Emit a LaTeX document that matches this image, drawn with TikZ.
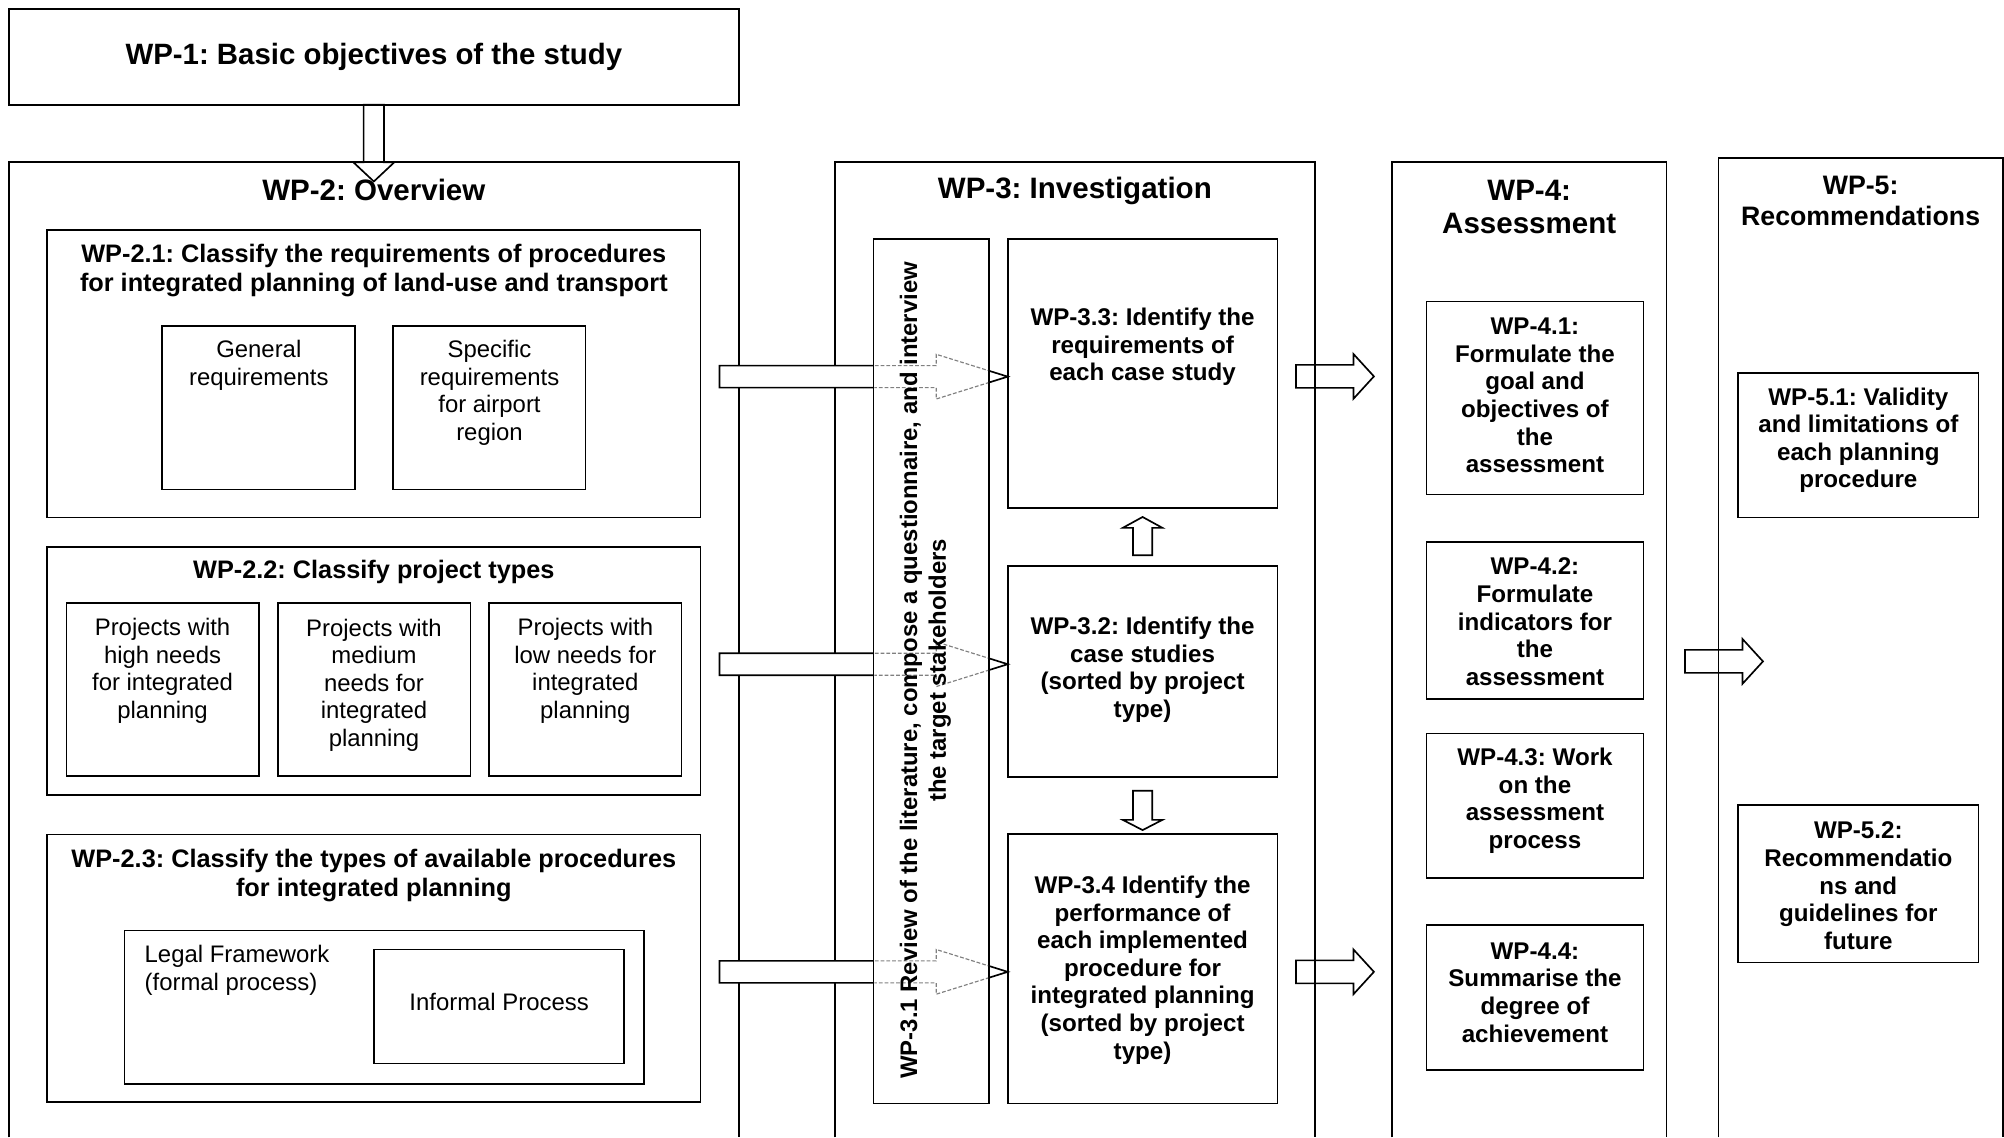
\documentclass[tikz,border=0pt]{standalone}
\usepackage{fontspec}
\setmainfont{Liberation Sans}
\usetikzlibrary{calc}
\frenchspacing

% rectangle node given by two corners: [options]{name}{x1}{y1}{x2}{y2}
\newcommand\wpbox[6][]{%
  \node[box,#1,minimum width={(#5-#3)*1pt},minimum height={(#6-#4)*1pt}]
    (#2) at ({(#3+#5)/2},{(#4+#6)/2}) {};}

% hollow block arrow: {style}{tail}{tip}{head length}{body half width}{head half width}
\newcommand\blockarr[6]{%
  \coordinate (ba-t) at (#2);
  \coordinate (ba-h) at (#3);
  \coordinate (ba-b) at ($(ba-h)!#4!(ba-t)$);
  \path[#1] ($(ba-t)!#5!90:(ba-h)$) -- ($(ba-b)!#5!90:(ba-h)$)
    -- ($(ba-b)!#6!90:(ba-h)$) -- (ba-h) -- ($(ba-b)!#6!-90:(ba-h)$)
    -- ($(ba-b)!#5!-90:(ba-h)$) -- ($(ba-t)!#5!-90:(ba-h)$) -- cycle;}

\begin{document}
\begin{tikzpicture}[x=1pt,y=-1pt,
  colframe/.style={line width=1.3pt, line join=miter},
  box/.style={draw, line width=1.3pt, inner sep=0pt, outer sep=0pt},
  hollow/.style={draw, fill=white, line width=1.3pt, line join=miter},
  openarrow/.style={draw, line width=1.3pt, line join=miter},
  behind/.style={draw=black!50, line width=0.9pt, dash pattern=on 3pt off 1.5pt, line join=miter},
  coltitle/.style={font=\fontsize{23.1}{26.2}\selectfont\bfseries, align=center, inner sep=0pt},
  smalltitle/.style={font=\fontsize{20.9}{24}\selectfont\bfseries, align=center, inner sep=0pt},
  grouptitle/.style={font=\fontsize{19.8}{23}\selectfont\bfseries, align=center, inner sep=0pt},
  wptext/.style={font=\fontsize{18.9}{21.6}\selectfont\bfseries, align=center, inner sep=0pt},
  striptext/.style={font=\fontsize{18.7}{22.5}\selectfont\bfseries, align=center, inner sep=0pt},
  plaintext/.style={font=\fontsize{18.7}{21.6}\selectfont, align=center, inner sep=0pt},
]
\useasboundingbox (0,0) rectangle (1568,890);
\fill[white] (0,0) rectangle (1568,890);

% work-package columns, running off the foot of the page
\draw[colframe] (7,890) -- (7,127) -- (578,127) -- (578,890);
\draw[colframe] (653.4,890) -- (653.4,127) -- (1029,127) -- (1029,890);
\draw[colframe] (1089,890) -- (1089,127) -- (1304,127) -- (1304,890);
\draw[colframe] (1344.5,890) -- (1344.5,123.5) -- (1567,123.5) -- (1567,890);

% WP-1
\wpbox{wp1}{7}{7}{578}{82}
\node[font=\fontsize{23}{26}\selectfont\bfseries, inner sep=0pt] (wp1t) at (wp1.center) {WP-1: Basic objectives of the study};

% WP-2 contents
\wpbox{wp21}{37}{180}{548}{405}
\wpbox{gen}{127}{255}{278}{383}
\wpbox{spec}{307.6}{255}{458.2}{383}
\wpbox{wp22}{37}{428}{548}{622}
\wpbox{pa}{52}{472}{202.5}{607}
\wpbox{pb}{217.3}{472}{368}{607}
\wpbox{pc}{382.7}{472}{533.3}{607}
\wpbox{wp23}{37}{653}{548}{862}
\wpbox{legal}{97.5}{728}{503.7}{848}
\wpbox{informal}{292.8}{743}{488.2}{832}

% WP-3 contents
\wpbox{wp33}{788.5}{187}{999.5}{397.7}
\wpbox{wp32}{788.5}{442.9}{999.5}{607.7}
\wpbox{wp34}{788.5}{652.8}{999.5}{863.3}

% WP-4 contents
\wpbox{wp41}{1116}{236}{1286}{387}
\wpbox{wp42}{1116}{424}{1286}{547}
\wpbox{wp43}{1116}{574}{1286}{687}
\wpbox{wp44}{1116}{724}{1286}{837}

% WP-5 contents
\wpbox{wp51}{1360}{292}{1548}{405}
\wpbox{wp52}{1360}{630}{1548}{753}

% tails of the arrows from WP-2 into WP-3
\coordinate (a1) at (563,294.7);
\coordinate (a2) at (563,519.7);
\coordinate (a3) at (563,760.4);
\coordinate (t1) at (wp33.west |- a1);
\coordinate (t2) at (wp32.west |- a2);
\coordinate (t3) at (wp34.west |- a3);
\blockarr{hollow}{a1}{t1}{56pt}{8.6pt}{17.5pt}
\blockarr{hollow}{a2}{t2}{56pt}{8.6pt}{17.5pt}
\blockarr{hollow}{a3}{t3}{56pt}{8.6pt}{17.5pt}

% WP-3.1 strip, with the arrows showing through it
\wpbox[fill=white]{wp31}{683.4}{187}{773.9}{863.3}
\begin{scope}
  \clip ($(wp31.north west)+(0.7,0.7)$) rectangle ($(wp31.south east)+(-0.7,-0.7)$);
  \blockarr{behind}{a1}{t1}{56pt}{8.6pt}{17.5pt}
  \blockarr{behind}{a2}{t2}{56pt}{8.6pt}{17.5pt}
  \blockarr{behind}{a3}{t3}{56pt}{8.6pt}{17.5pt}
\end{scope}
\node[striptext, rotate=90] (wp31t) at (724,524.5)
  {WP-3.1 Review of the literature, compose a questionnaire, and interview\\the target stakeholders};

% WP-1 down to WP-2
\coordinate (d0) at (wp1.south);
\coordinate (d1) at ($(wp1.south)+(0,60)$);
\blockarr{openarrow}{d0}{d1}{15pt}{8pt}{16pt}

% arrows between the WP-3 steps
\coordinate (u0) at ($(wp32.north)+(0,-8.4)$);
\coordinate (u1) at ($(wp33.south)+(0,6.8)$);
\blockarr{openarrow}{u0}{u1}{8.5pt}{7.5pt}{15.5pt}
\coordinate (v0) at ($(wp32.south)+(0,11)$);
\coordinate (v1) at ($(wp34.north)+(0,-3.3)$);
\blockarr{openarrow}{v0}{v1}{8pt}{7.5pt}{15.5pt}

% arrows from WP-3 to WP-4 and from WP-4 to WP-5
\coordinate (b1) at (1014,294.5);
\coordinate (c1) at (1075,294.5);
\coordinate (b2) at (1014,760.4);
\coordinate (c2) at (1075,760.4);
\coordinate (b3) at (1318.4,517.5);
\coordinate (c3) at (1379.4,517.5);
\blockarr{openarrow}{b1}{c1}{16pt}{9pt}{17.5pt}
\blockarr{openarrow}{b2}{c2}{16pt}{9pt}{17.5pt}
\blockarr{openarrow}{b3}{c3}{16pt}{9pt}{17.5pt}

% column headings
\node[coltitle] (wp2t) at (292.5,149) {WP-2: Overview};
\node[coltitle] (wp3t) at (841,149.5) {WP-3: Investigation};
\node[coltitle] (wp4t) at (1196.5,162) {WP-4:\\Assessment};
\node[smalltitle] (wp5t) at (1455.8,157) {WP-5:\\Recommendations};

% WP-2 texts
\node[grouptitle] (wp21t) at (292.5,211.5) {WP-2.1: Classify the requirements of procedures\\for integrated planning of land-use and transport};
\node[plaintext] (gent) at (202.5,286) {General\\requirements};
\node[plaintext] (spect) at (383,307.5) {Specific\\requirements\\for airport\\region};
\node[grouptitle] (wp22t) at (292.5,447.5) {WP-2.2: Classify project types};
\node[plaintext] (pat) at (127.2,525) {Projects with\\high needs\\for integrated\\planning};
\node[plaintext] (pbt) at (292.6,536) {Projects with\\medium\\needs for\\integrated\\planning};
\node[plaintext] (pct) at (458,525) {Projects with\\low needs for\\integrated\\planning};
\node[grouptitle] (wp23t) at (292.5,685) {WP-2.3: Classify the types of available procedures\\for integrated planning};
\node[plaintext, align=left, anchor=west] (legalt) at (113,759) {Legal Framework\\(formal process)};
\node[plaintext] (informalt) at (390.5,784) {Informal Process};

% WP-3 texts
\node[wptext] (wp33t) at (894,271.5) {WP-3.3: Identify the\\requirements of\\each case study};
\node[wptext] (wp32t) at (894,524) {WP-3.2: Identify the\\case studies\\(sorted by project\\type)};
\node[wptext] (wp34t) at (894,759) {WP-3.4 Identify the\\performance of\\each implemented\\procedure for\\integrated planning\\(sorted by project\\type)};

% WP-4 texts
\node[wptext] (wp41t) at (1201,309.5) {WP-4.1:\\Formulate the\\goal and\\objectives of\\the\\assessment};
\node[wptext] (wp42t) at (1201,486.5) {WP-4.2:\\Formulate\\indicators for\\the\\assessment};
\node[wptext] (wp43t) at (1201,626.5) {WP-4.3: Work\\on the\\assessment\\process};
\node[wptext] (wp44t) at (1201,776.5) {WP-4.4:\\Summarise the\\degree of\\achievement};

% WP-5 texts
\node[wptext] (wp51t) at (1454,344.5) {WP-5.1: Validity\\and limitations of\\each planning\\procedure};
\node[wptext] (wp52t) at (1454,693) {WP-5.2:\\Recommendatio\\ns and\\guidelines for\\future};
\end{tikzpicture}
\end{document}
